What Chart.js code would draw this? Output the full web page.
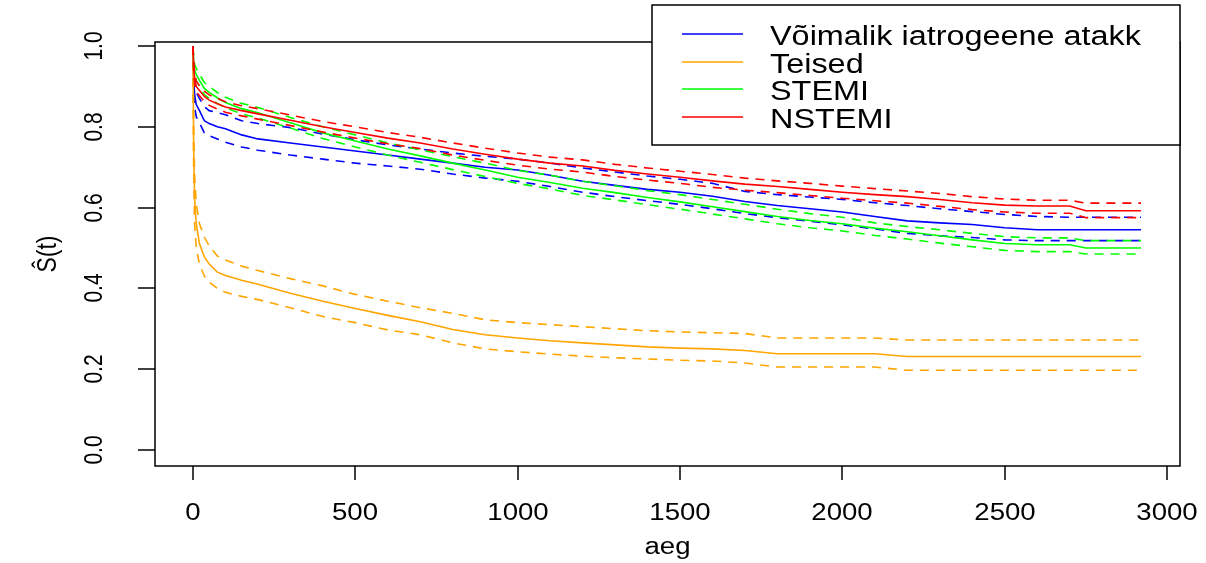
<!DOCTYPE html>
<html>
<head>
<meta charset="utf-8">
<script src="https://cdn.jsdelivr.net/npm/chart.js@4"></script>
<style>
  body { margin: 0; background: #fff; }
  canvas { display: block; }
</style>
</head>
<body>
<canvas id="kmChart" width="1206" height="563"></canvas>
<script>
// time points (days) at which the curves are read
var days = [0, 2, 5, 10, 20, 35, 50, 75, 100, 150, 200, 300, 400, 500, 600, 700, 800, 900, 1000,
    1100, 1200, 1300, 1400, 1500, 1600, 1700, 1800, 1900, 2000, 2100, 2200, 2300, 2400, 2500,
    2600, 2700, 2750, 2920];

var groupNames = ['Võimalik iatrogeene atakk', 'Teised', 'STEMI', 'NSTEMI'];
var groupColors = ['#0000ff', '#ffa500', '#00ff00', '#ff0000'];

// Võimalik iatrogeene atakk
var iatroSurv = [1.000, 0.920, 0.880, 0.855, 0.840, 0.815, 0.808, 0.800, 0.795, 0.780, 0.770, 0.760, 0.750, 0.740, 0.730, 0.720, 0.710, 0.700, 0.693,
    0.680, 0.665, 0.655, 0.645, 0.638, 0.628, 0.615, 0.605, 0.597, 0.589, 0.578, 0.567, 0.562, 0.558, 0.550, 0.545, 0.545, 0.545, 0.545];
var iatroUpper = [1.000, 0.950, 0.910, 0.885, 0.870, 0.850, 0.840, 0.835, 0.830, 0.815, 0.808, 0.798, 0.782, 0.768, 0.755, 0.745, 0.735, 0.727, 0.720,
    0.710, 0.698, 0.688, 0.678, 0.670, 0.660, 0.640, 0.632, 0.626, 0.620, 0.612, 0.605, 0.597, 0.590, 0.583, 0.578, 0.576, 0.576, 0.576];
var iatroLower = [1.000, 0.890, 0.850, 0.825, 0.810, 0.785, 0.778, 0.770, 0.762, 0.750, 0.742, 0.730, 0.720, 0.710, 0.703, 0.695, 0.683, 0.673, 0.665,
    0.652, 0.638, 0.627, 0.617, 0.608, 0.597, 0.585, 0.575, 0.566, 0.557, 0.547, 0.536, 0.530, 0.526, 0.520, 0.518, 0.518, 0.518, 0.518];

// Teised
var teisedSurv = [1.000, 0.750, 0.620, 0.560, 0.510, 0.478, 0.460, 0.440, 0.432, 0.420, 0.410, 0.388, 0.368, 0.350, 0.333, 0.317, 0.298, 0.285, 0.277,
    0.270, 0.265, 0.260, 0.255, 0.252, 0.250, 0.246, 0.238, 0.238, 0.238, 0.238, 0.231, 0.231, 0.231, 0.231, 0.231, 0.231, 0.231, 0.231];
var teisedUpper = [1.000, 0.800, 0.680, 0.610, 0.560, 0.527, 0.505, 0.480, 0.470, 0.455, 0.444, 0.424, 0.406, 0.385, 0.368, 0.352, 0.338, 0.322, 0.315,
    0.310, 0.305, 0.300, 0.295, 0.292, 0.290, 0.288, 0.277, 0.277, 0.277, 0.277, 0.272, 0.272, 0.272, 0.272, 0.272, 0.272, 0.272, 0.272];
var teisedLower = [1.000, 0.700, 0.560, 0.500, 0.460, 0.430, 0.415, 0.400, 0.390, 0.380, 0.372, 0.352, 0.330, 0.315, 0.297, 0.285, 0.265, 0.250, 0.243,
    0.237, 0.232, 0.228, 0.225, 0.222, 0.220, 0.215, 0.205, 0.205, 0.205, 0.205, 0.197, 0.197, 0.197, 0.197, 0.197, 0.197, 0.197, 0.197];

// STEMI
var stemiSurv = [1.000, 0.960, 0.940, 0.930, 0.915, 0.895, 0.885, 0.872, 0.860, 0.845, 0.835, 0.810, 0.785, 0.765, 0.745, 0.728, 0.710, 0.693, 0.675,
    0.662, 0.648, 0.637, 0.625, 0.614, 0.602, 0.590, 0.578, 0.568, 0.560, 0.549, 0.540, 0.530, 0.520, 0.511, 0.508, 0.508, 0.500, 0.500];
var stemiUpper = [1.000, 0.975, 0.955, 0.945, 0.930, 0.910, 0.900, 0.885, 0.873, 0.858, 0.848, 0.823, 0.800, 0.780, 0.760, 0.743, 0.726, 0.710, 0.692,
    0.680, 0.665, 0.654, 0.642, 0.632, 0.620, 0.608, 0.596, 0.585, 0.576, 0.562, 0.553, 0.545, 0.536, 0.528, 0.525, 0.525, 0.518, 0.518];
var stemiLower = [1.000, 0.945, 0.925, 0.915, 0.900, 0.880, 0.870, 0.858, 0.847, 0.832, 0.822, 0.797, 0.771, 0.750, 0.730, 0.712, 0.694, 0.677, 0.660,
    0.646, 0.630, 0.619, 0.607, 0.596, 0.584, 0.572, 0.560, 0.550, 0.542, 0.531, 0.522, 0.512, 0.503, 0.494, 0.491, 0.491, 0.485, 0.485];

// NSTEMI
var nstemiSurv = [1.000, 0.950, 0.920, 0.900, 0.890, 0.875, 0.866, 0.857, 0.849, 0.840, 0.832, 0.816, 0.800, 0.786, 0.772, 0.760, 0.745, 0.732, 0.720,
    0.710, 0.703, 0.692, 0.683, 0.675, 0.666, 0.658, 0.652, 0.645, 0.638, 0.632, 0.627, 0.620, 0.612, 0.606, 0.604, 0.604, 0.592, 0.592];
var nstemiUpper = [1.000, 0.965, 0.935, 0.913, 0.902, 0.888, 0.879, 0.870, 0.862, 0.852, 0.845, 0.829, 0.813, 0.800, 0.786, 0.774, 0.760, 0.747, 0.735,
    0.725, 0.718, 0.707, 0.698, 0.690, 0.682, 0.673, 0.666, 0.660, 0.653, 0.647, 0.641, 0.635, 0.627, 0.621, 0.618, 0.618, 0.611, 0.611];
var nstemiLower = [1.000, 0.935, 0.905, 0.887, 0.877, 0.862, 0.853, 0.844, 0.836, 0.827, 0.819, 0.803, 0.787, 0.772, 0.758, 0.746, 0.730, 0.717, 0.705,
    0.695, 0.688, 0.677, 0.668, 0.660, 0.650, 0.643, 0.637, 0.630, 0.623, 0.617, 0.611, 0.603, 0.595, 0.589, 0.586, 0.586, 0.575, 0.575];

var xTicks = [0, 500, 1000, 1500, 2000, 2500, 3000];
var yTicks = [0, 0.2, 0.4, 0.6, 0.8, 1.0];
var yTickLabels = ['0.0', '0.2', '0.4', '0.6', '0.8', '1.0'];
var xTitle = 'aeg';
var yTitle = 'Ŝ(t)';

// the source image is a little wider than tall, so text is stretched sideways
var textStretch = 1.2;
var fontFamily = '"Liberation Sans", Arial, sans-serif';

function makeLine(values, color, dashed) {
    return {
        data: days.map(function (d, i) { return { x: d, y: values[i] }; }),
        borderColor: color,
        borderWidth: 1.6,
        borderDash: dashed ? [9, 7] : [],
        tension: 0,
        pointRadius: 0,
        fill: false
    };
}

function stretchedText(ctx, text, x, y, align, size) {
    ctx.save();
    ctx.translate(x, y);
    ctx.scale(textStretch, 1);
    ctx.font = size + 'px ' + fontFamily;
    ctx.textAlign = align;
    ctx.textBaseline = 'alphabetic';
    ctx.fillText(text, 0, 0);
    ctx.restore();
}

function rotatedText(ctx, text, x, y, size) {
    ctx.save();
    ctx.translate(x, y);
    ctx.rotate(-Math.PI / 2);
    ctx.scale(1, textStretch);
    ctx.font = size + 'px ' + fontFamily;
    ctx.textAlign = 'center';
    ctx.textBaseline = 'alphabetic';
    ctx.fillText(text, 0, 0);
    ctx.restore();
}

function segment(ctx, x1, y1, x2, y2) {
    ctx.beginPath();
    ctx.moveTo(x1, y1);
    ctx.lineTo(x2, y2);
    ctx.stroke();
}

// box, axes, titles and legend in the look of base R graphics
var rStylePlugin = {
    id: 'rStyle',
    afterDraw: function (chart) {
        var ctx = chart.ctx;
        var area = chart.chartArea;
        var xs = chart.scales.x;
        var ys = chart.scales.y;
        ctx.save();
        ctx.strokeStyle = '#000';
        ctx.fillStyle = '#000';
        ctx.lineWidth = 1.5;
        ctx.strokeRect(area.left, area.top, area.right - area.left, area.bottom - area.top);

        xTicks.forEach(function (v) {
            var px = Math.round(xs.getPixelForValue(v));
            segment(ctx, px, area.bottom, px, area.bottom + 14);
            stretchedText(ctx, String(v), px, 520, 'center', 23);
        });
        yTicks.forEach(function (v, i) {
            var py = Math.round(ys.getPixelForValue(v));
            segment(ctx, area.left - 17, py, area.left, py);
            rotatedText(ctx, yTickLabels[i], 102, py, 21);
        });

        stretchedText(ctx, xTitle, (area.left + area.right) / 2, 554, 'center', 23);
        rotatedText(ctx, yTitle, 56, (area.top + area.bottom) / 2, 23);

        // legend
        var box = { left: 652, top: 5, right: 1180, bottom: 145 };
        ctx.fillStyle = '#fff';
        ctx.fillRect(box.left, box.top, box.right - box.left, box.bottom - box.top);
        ctx.strokeRect(box.left, box.top, box.right - box.left, box.bottom - box.top);
        var rowY = [34, 62, 89, 117];
        groupNames.forEach(function (name, i) {
            ctx.strokeStyle = groupColors[i];
            ctx.lineWidth = 1.6;
            segment(ctx, 682, rowY[i], 743, rowY[i]);
            ctx.fillStyle = '#000';
            stretchedText(ctx, name, 770, rowY[i] + 11, 'left', 27);
        });
        ctx.restore();
    }
};

var groups = [
    { color: groupColors[0], surv: iatroSurv, lower: iatroLower, upper: iatroUpper },
    { color: groupColors[1], surv: teisedSurv, lower: teisedLower, upper: teisedUpper },
    { color: groupColors[2], surv: stemiSurv, lower: stemiLower, upper: stemiUpper },
    { color: groupColors[3], surv: nstemiSurv, lower: nstemiLower, upper: nstemiUpper }
];

var datasets = [];
groups.forEach(function (g) {
    datasets.push(makeLine(g.lower, g.color, true));
    datasets.push(makeLine(g.upper, g.color, true));
    datasets.push(makeLine(g.surv, g.color, false));
});
// Chart.js paints the first dataset on top, R paints the last group on top
datasets.reverse();

new Chart(document.getElementById('kmChart').getContext('2d'), {
    type: 'line',
    data: { datasets: datasets },
    options: {
        responsive: false,
        animation: false,
        layout: { padding: { left: 155, top: 42, right: 26, bottom: 97 } },
        scales: {
            x: { type: 'linear', min: -117, max: 3040, display: false },
            y: { min: -0.04, max: 1.01, display: false }
        },
        plugins: {
            legend: { display: false },
            tooltip: { enabled: false }
        }
    },
    plugins: [rStylePlugin]
});
</script>
</body>
</html>
